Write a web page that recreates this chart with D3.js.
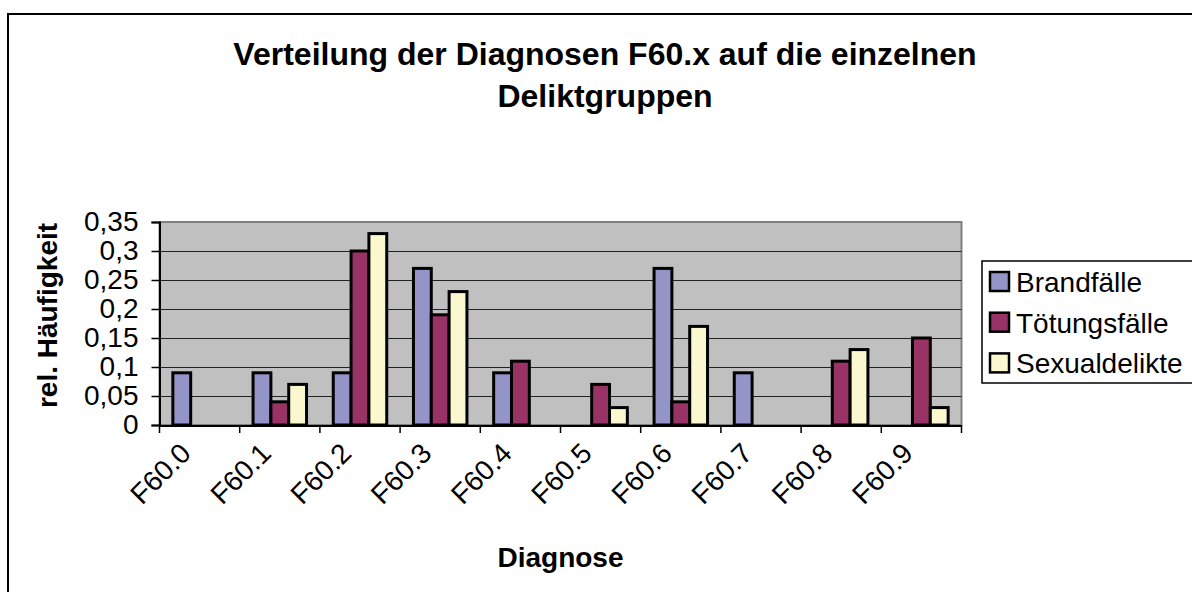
<!DOCTYPE html>
<html>
<head>
<meta charset="utf-8">
<script src="https://cdn.jsdelivr.net/npm/d3@7"></script>
<style>
  body { margin: 0; background: #fff; }
  svg { display: block; font-family: "Liberation Sans", Arial, sans-serif; }
</style>
</head>
<body>
<script>
var categories = ["F60.0", "F60.1", "F60.2", "F60.3", "F60.4", "F60.5", "F60.6", "F60.7", "F60.8", "F60.9"];
var seriesNames = ["Brandfälle", "Tötungsfälle", "Sexualdelikte"];
var brand = [0.09, 0.09, 0.09, 0.27, 0.09, 0, 0.27, 0.09, 0, 0];
var toetung = [0, 0.04, 0.30, 0.19, 0.11, 0.07, 0.04, 0, 0.11, 0.15];
var sexual = [0, 0.07, 0.33, 0.23, 0, 0.03, 0.17, 0, 0.13, 0.03];
var yTicks = [0, 0.05, 0.1, 0.15, 0.2, 0.25, 0.3, 0.35];
var colors = ["#9494c9", "#993366", "#fbf8cf"];

var width = 1192,
    height = 592;

var svg = d3.select("body").append("svg")
    .attr("width", width)
    .attr("height", height);

// outer chart border
svg.append("rect")
    .attr("x", 8).attr("y", 14)
    .attr("width", width).attr("height", height)
    .attr("fill", "#fff")
    .attr("stroke", "#000")
    .attr("stroke-width", 2);

var plotL = 159.5, plotR = 961.5, plotT = 222, plotB = 425;

var x = d3.scaleBand().domain(categories).range([plotL, plotR]).paddingInner(0).paddingOuter(0);
var y = d3.scaleLinear().domain([0, 0.35]).range([plotB, plotT]);

// plot area
svg.append("rect")
    .attr("x", plotL).attr("y", plotT)
    .attr("width", plotR - plotL).attr("height", plotB - plotT)
    .attr("fill", "#c0c0c0")
    .attr("stroke", "#808080")
    .attr("stroke-width", 2);

// gridlines
svg.append("g").selectAll("line")
    .data(yTicks.filter(d => d > 0 && d < 0.35))
    .enter().append("line")
    .attr("x1", plotL).attr("x2", plotR)
    .attr("y1", d => Math.round(y(d)) + 0.5).attr("y2", d => Math.round(y(d)) + 0.5)
    .attr("stroke", "#222")
    .attr("stroke-width", 1);

// bars
var data = [brand, toetung, sexual];
var bw = x.bandwidth() / 4.5;
var groups = svg.append("g");
data.forEach(function (vals, s) {
    groups.selectAll(".s" + s)
        .data(vals.map((v, i) => ({ cat: categories[i], v: v })).filter(d => d.v > 0))
        .enter().append("rect")
        .attr("x", d => x(d.cat) + bw * 0.75 + s * bw)
        .attr("y", d => y(d.v))
        .attr("width", bw)
        .attr("height", d => y(0) - y(d.v))
        .attr("fill", colors[s])
        .attr("stroke", "#000")
        .attr("stroke-width", 3);
});

// y axis
var yAxis = d3.axisLeft(y).tickValues(yTicks).tickSize(8).tickPadding(13)
    .tickFormat(d => String(+d.toFixed(2)).replace(".", ","));
var gy = svg.append("g").attr("transform", "translate(" + plotL + ",0)").call(yAxis);
gy.select(".domain").attr("stroke", "#000").attr("stroke-width", 2);
gy.selectAll(".tick line").attr("stroke", "#000").attr("stroke-width", 1.5);
gy.selectAll(".tick text").attr("font-size", 28).attr("fill", "#000")
    .attr("font-family", "Liberation Sans, Arial, sans-serif");

// x axis
svg.append("line")
    .attr("x1", plotL).attr("x2", plotR)
    .attr("y1", plotB + 1).attr("y2", plotB + 1)
    .attr("stroke", "#000").attr("stroke-width", 2);
svg.append("g").selectAll("line")
    .data(categories.concat(["end"]))
    .enter().append("line")
    .attr("x1", (d, i) => plotL + i * x.step()).attr("x2", (d, i) => plotL + i * x.step())
    .attr("y1", plotB).attr("y2", plotB + 8)
    .attr("stroke", "#000").attr("stroke-width", 1.5);
svg.append("g").selectAll("text")
    .data(categories)
    .enter().append("text")
    .attr("transform", d => "translate(" + (x(d) + x.bandwidth() / 2 - 7) + "," + (plotB + 30) + ") rotate(-45)")
    .attr("text-anchor", "end")
    .attr("font-size", 28)
    .text(d => d);

// titles
var title = svg.append("text")
    .attr("text-anchor", "middle")
    .attr("font-size", 32).attr("font-weight", "bold");
title.append("tspan").attr("x", 605).attr("y", 65).text("Verteilung der Diagnosen F60.x auf die einzelnen");
title.append("tspan").attr("x", 605).attr("y", 107).text("Deliktgruppen");

svg.append("text")
    .attr("x", (plotL + plotR) / 2).attr("y", 567)
    .attr("text-anchor", "middle")
    .attr("font-size", 28).attr("font-weight", "bold")
    .text("Diagnose");

svg.append("text")
    .attr("transform", "translate(57," + ((plotT + plotB) / 2 - 8) + ") rotate(-90)")
    .attr("text-anchor", "middle")
    .attr("font-size", 28).attr("font-weight", "bold")
    .text("rel. Häufigkeit");

// legend
var legend = svg.append("g").attr("transform", "translate(982,261)");
legend.append("rect")
    .attr("width", 220).attr("height", 122)
    .attr("fill", "#fff").attr("stroke", "#000").attr("stroke-width", 1.5);
var items = legend.selectAll(".item")
    .data(seriesNames)
    .enter().append("g")
    .attr("transform", (d, i) => "translate(8," + (21 + i * 40.7) + ")");
items.append("rect")
    .attr("x", 0).attr("y", -10).attr("width", 19).attr("height", 19)
    .attr("fill", (d, i) => colors[i]).attr("stroke", "#000").attr("stroke-width", 2.5);
items.append("text")
    .attr("x", 26).attr("y", 10)
    .attr("font-size", 28)
    .text(d => d);
</script>
</body>
</html>
